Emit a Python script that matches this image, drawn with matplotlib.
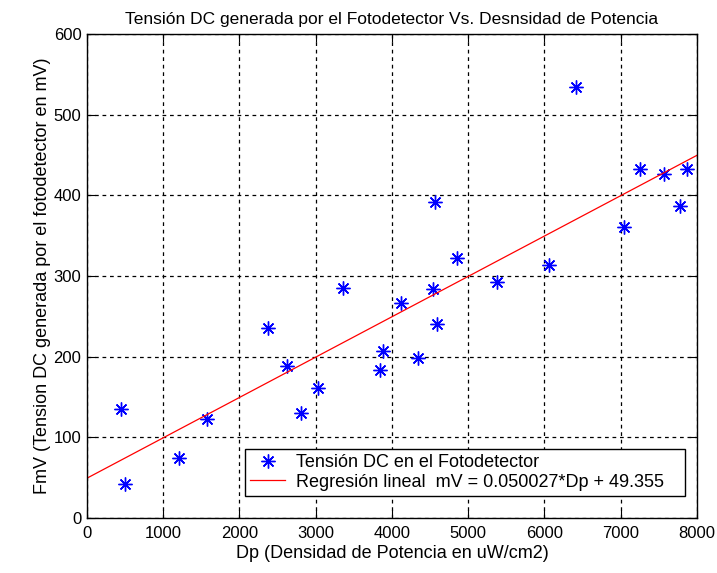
import numpy as np
import matplotlib
matplotlib.use("Agg")
import matplotlib.pyplot as plt

# Mediciones: densidad de potencia (uW/cm2) y tension DC (mV)
dp = [442, 503, 1202, 1570, 2370, 2623, 2807, 3025, 3362, 3843, 3878,
      4118, 4341, 4542, 4564, 4586, 4857, 5373, 6059, 6409, 7038, 7257,
      7567, 7777, 7865]
mv = [135, 42, 74, 123, 235, 189, 130, 161, 285, 184, 207,
      266, 198, 284, 392, 240, 322, 293, 314, 534, 361, 433,
      427, 387, 433]

# Regresion lineal
pendiente = 0.050027
intercepto = 49.355
x_fit = [0, 8000]

plt.rcParams['font.family'] = ['Liberation Sans', 'DejaVu Sans']
plt.rcParams['font.size'] = 13

fig = plt.figure(figsize=(7.17, 5.73), dpi=100)
ax = fig.add_axes([0.1213, 0.096, 0.8507, 0.8447])

ax.plot(dp, mv, color='b', marker=(8, 2, 0), markersize=10, markeredgewidth=1.0,
        linestyle='none', label='Tensión DC en el Fotodetector')
ax.plot(x_fit, [pendiente * x + intercepto for x in x_fit], 'r-', linewidth=0.9,
        label='Regresión lineal  mV = 0.050027*Dp + 49.355')

ax.set_xlim(0, 8000)
ax.set_ylim(0, 600)
ax.set_xticks(np.arange(0, 8001, 1000))
ax.set_yticks(np.arange(0, 601, 100))
ax.grid(True, color='k', linestyle=(0, (3, 3)), linewidth=0.9)
ax.tick_params(direction='in', top=True, right=True, length=6, labelsize=12)
ax.tick_params(axis='x', pad=6)
ax.tick_params(axis='y', pad=4)
for s in ax.spines.values():
    s.set_linewidth(1.0)

ax.set_title('Tensión DC generada por el Fotodetector Vs. Desnsidad de Potencia',
             fontsize=12.5, pad=7)
ax.set_xlabel('Dp (Densidad de Potencia en uW/cm2)', labelpad=3)
ax.set_ylabel('FmV (Tension DC generada por el fotodetector en mV)', labelpad=2)

leg = ax.legend(loc='lower left', bbox_to_anchor=(0.259, 0.045, 0.721, 0.106),
                mode='expand', fancybox=False, framealpha=1, edgecolor='k',
                borderaxespad=0, handlelength=1.9, handletextpad=0.6,
                borderpad=0.3, labelspacing=0.15, fontsize=13)
leg.get_frame().set_linewidth(1.0)

fig.savefig('out.png', dpi=100)
